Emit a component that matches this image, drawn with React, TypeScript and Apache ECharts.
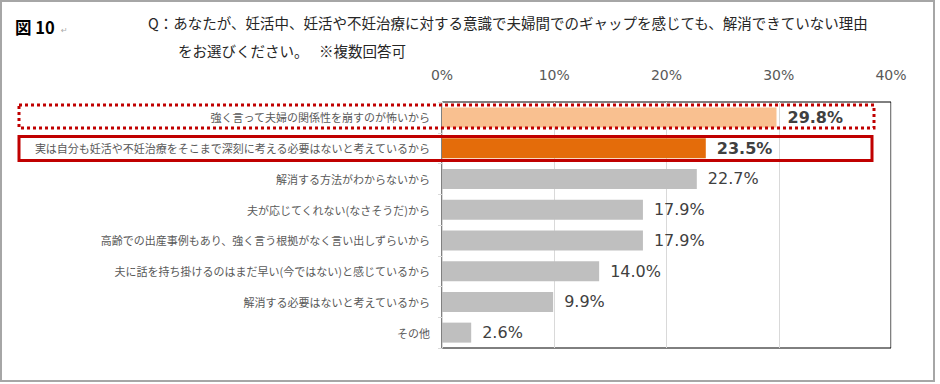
import React, { useEffect, useRef } from "react";
import * as echarts from "echarts";

const categories = [
  "強く言って夫婦の関係性を崩すのが怖いから",
  "実は自分も妊活や不妊治療をそこまで深刻に考える必要はないと考えているから",
  "解消する方法がわからないから",
  "夫が応じてくれない(なさそうだ)から",
  "高齢での出産事例もあり、強く言う根拠がなく言い出しずらいから",
  "夫に話を持ち掛けるのはまだ早い(今ではない)と感じているから",
  "解消する必要はないと考えているから",
  "その他",
];
const values = [29.8, 23.5, 22.7, 17.9, 17.9, 14.0, 9.9, 2.6];
const barColors = ["#F9C090", "#E46C0A", "#BFBFBF", "#BFBFBF", "#BFBFBF", "#BFBFBF", "#BFBFBF", "#BFBFBF"];
const boldLabels = [true, true, false, false, false, false, false, false];
const xTicks = { min: 0, max: 40, interval: 10 };

const titleLine1 = "Q：あなたが、妊活中、妊活や不妊治療に対する意識で夫婦間でのギャップを感じても、解消できていない理由";
const titleLine2 = "をお選びください。　 ※複数回答可";

export default function App() {
  const ref = useRef<HTMLDivElement>(null);
  useEffect(() => {
    document.body.style.margin = "0";
    const chart = echarts.init(ref.current!, null, { renderer: "svg" });
    const jp = "'Noto Sans CJK JP', sans-serif";
    chart.setOption({
      animation: false,
      backgroundColor: "#ffffff",
      grid: {
        left: 442,
        right: 49,
        top: 102,
        bottom: 36,
        show: true,
        borderColor: "#000000",
        borderWidth: 1,
        containLabel: false,
      },
      xAxis: {
        type: "value",
        position: "top",
        min: xTicks.min,
        max: xTicks.max,
        interval: xTicks.interval,
        axisLine: { show: false },
        axisTick: { show: false },
        axisLabel: {
          formatter: "{value}%",
          color: "#595959",
          fontSize: 14,
          fontFamily: "'DejaVu Sans', sans-serif",
          margin: 20,
        },
        splitLine: { show: true, lineStyle: { color: "#d9d9d9", width: 1 } },
      },
      yAxis: {
        type: "category",
        inverse: true,
        data: categories,
        axisLine: { show: true, lineStyle: { color: "#d9d9d9", width: 1 } },
        axisTick: { show: true, length: 4, lineStyle: { color: "#d9d9d9" } },
        axisLabel: {
          color: "#595959",
          fontSize: 11,
          fontFamily: jp,
          margin: 12,
        },
        splitLine: { show: false },
      },
      series: [
        {
          type: "bar",
          barWidth: 20,
          data: values.map((v, i) => ({
            value: v,
            itemStyle: { color: barColors[i] },
            label: {
              fontWeight: boldLabels[i] ? "bold" : "normal",
              fontSize: boldLabels[i] ? 16 : 16,
            },
          })),
          label: {
            show: true,
            position: "right",
            distance: 11,
            color: "#404040",
            fontSize: 16,
            fontFamily: "'DejaVu Sans', sans-serif",
            formatter: (p: any) => Number(p.value).toFixed(1) + "%",
          },
          z: 3,
        },
      ],
      graphic: [
        {
          type: "rect",
          shape: { x: 1, y: 1, width: 933, height: 380 },
          style: { fill: "none", stroke: "#a6a6a6", lineWidth: 2 },
          silent: true,
        },
        {
          type: "text",
          x: 15,
          y: 27,
          style: {
            text: "図 10",
            font: "bold 16.5px 'Noto Sans CJK JP', sans-serif",
            fill: "#000000",
            verticalAlign: "middle",
          },
        },
        {
          type: "text",
          x: 61,
          y: 30,
          style: { text: "↵", font: "8px 'DejaVu Sans', sans-serif", fill: "#aaaaaa", verticalAlign: "middle" },
        },
        {
          type: "text",
          x: 148,
          y: 22,
          style: {
            text: titleLine1,
            font: "14.5px 'Noto Sans CJK JP', sans-serif",
            fill: "#262626",
            verticalAlign: "middle",
          },
        },
        {
          type: "text",
          x: 178,
          y: 50,
          style: {
            text: titleLine2,
            font: "14.5px 'Noto Sans CJK JP', sans-serif",
            fill: "#262626",
            verticalAlign: "middle",
          },
        },
        {
          type: "rect",
          shape: { x: 19, y: 105, width: 855, height: 23 },
          style: { fill: "none", stroke: "#C00000", lineWidth: 3, lineDash: [3, 3] },
          silent: true,
          z: 10,
        },
        {
          type: "rect",
          shape: { x: 19, y: 136.5, width: 853, height: 24 },
          style: { fill: "none", stroke: "#C00000", lineWidth: 3 },
          silent: true,
          z: 10,
        },
      ],
    });
    return () => chart.dispose();
  }, []);
  return <div ref={ref} style={{ position: "absolute", left: 0, top: 0, width: 940, height: 384 }} />;
}
